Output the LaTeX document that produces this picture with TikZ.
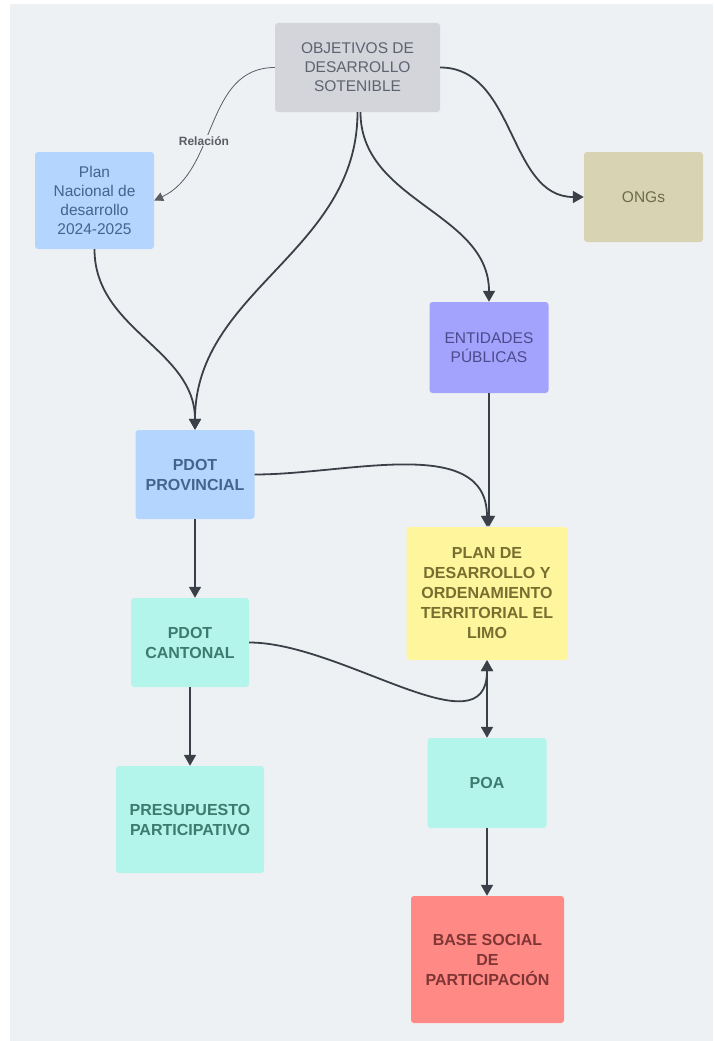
\documentclass[tikz,border=0pt]{standalone}
\usepackage{fontspec}
\setmainfont{Liberation Sans}
\usetikzlibrary{arrows.meta,positioning}

\definecolor{panelbg}{HTML}{EEF1F4}
\definecolor{linkcol}{HTML}{3B3F47}
\definecolor{relcol}{HTML}{5A5D63}
\definecolor{odsfill}{HTML}{D3D5DB}
\definecolor{odstext}{HTML}{5E6370}
\definecolor{bluefill}{HTML}{B4D5FD}
\definecolor{bluetext}{HTML}{43648C}
\definecolor{tanfill}{HTML}{D8D3B3}
\definecolor{tantext}{HTML}{6E6A4E}
\definecolor{purplefill}{HTML}{A3A3FE}
\definecolor{purpletext}{HTML}{4B4B8C}
\definecolor{yellowfill}{HTML}{FFF59C}
\definecolor{yellowtext}{HTML}{786E30}
\definecolor{mintfill}{HTML}{B3F5EA}
\definecolor{minttext}{HTML}{3D7A70}
\definecolor{salmonfill}{HTML}{FF8A85}
\definecolor{salmontext}{HTML}{803535}

\begin{document}
\begin{tikzpicture}[x=1pt, y=1pt,
    box/.style={rounded corners=3pt, align=center, inner sep=0pt,
        font=\fontsize{15.5}{19}\selectfont},
    boldbox/.style={box, font=\bfseries\fontsize{16}{20}\selectfont},
    link/.style={-{Triangle[length=11pt,width=12pt]}, line width=1.8pt, draw=linkcol},
    thinlink/.style={-{Triangle[length=9pt,width=9pt]}, line width=0.8pt, draw=relcol}]
    % Page and panel
    \useasboundingbox (0,0) rectangle (713,-1041);
    \fill[white] (0,0) rectangle (713,-1041);
    \fill[panelbg] (10,-4) rectangle (713,-1041);

    % Top row
    \node[box, fill=odsfill, text=odstext, minimum width=165pt, minimum height=89pt]
        (ods) at (357.5,-67.5) {OBJETIVOS DE\\DESARROLLO\\SOTENIBLE};
    \node[box, fill=bluefill, text=bluetext, minimum width=119pt, minimum height=97pt]
        (pnd) at (94.5,-200.5) {Plan\\Nacional de\\desarrollo\\2024-2025};
    \node[box, fill=tanfill, text=tantext, minimum width=119pt, minimum height=90pt]
        (ongs) at (643.5,-197) {ONGs};
    \node[box, fill=purplefill, text=purpletext, minimum width=119pt, minimum height=91pt]
        (ent) at (489,-347.5) {ENTIDADES\\PÚBLICAS};

    % Plans
    \node[boldbox, fill=bluefill, text=bluetext, minimum width=119pt, minimum height=89pt]
        (pdotp) at (195,-474.5) {PDOT\\PROVINCIAL};
    \node[boldbox, fill=yellowfill, text=yellowtext, minimum width=161pt, minimum height=133pt]
        (pdot) at (487,-593.5) {PLAN DE\\DESARROLLO Y\\ORDENAMIENTO\\TERRITORIAL EL\\LIMO};
    \node[boldbox, fill=mintfill, text=minttext, minimum width=118pt, minimum height=89pt]
        (pdotc) at (190,-642.5) {PDOT\\CANTONAL};

    % Bottom row
    \node[boldbox, fill=mintfill, text=minttext, minimum width=148pt, minimum height=107pt]
        (presup) at (190,-819.5) {PRESUPUESTO\\PARTICIPATIVO};
    \node[boldbox, fill=mintfill, text=minttext, minimum width=119pt, minimum height=90pt]
        (poa) at (487,-783) {POA};
    \node[boldbox, fill=salmonfill, text=salmontext, minimum width=153pt, minimum height=127pt]
        (base) at (487.5,-959.5) {BASE SOCIAL\\DE\\PARTICIPACIÓN};

    % Curved links
    \draw[thinlink] (ods.west) to[out=180, in=25]
        node[pos=0.6, fill=panelbg, inner sep=1pt, text=relcol,
             font=\bfseries\fontsize{12}{14}\selectfont] (rel) {Relación} (pnd.east);
    \draw[link] (ods.east) to[out=0, in=180] (ongs.west);
    \draw[link] (ods.south) to[out=-90, in=90] (pdotp.north);
    \draw[link] ([xshift=3pt]ods.south) to[out=-90, in=90] (ent.north);
    \draw[link] (pnd.south) to[out=-90, in=90] (pdotp.north);
    \draw[link] (pdotp.east) to[out=0, in=90] (pdot.north);
    \draw[link] (pdotc.east) to[out=0, in=-90] (pdot.south);

    % Straight links
    \draw[link] (pdotp.south) -- (pdotp.south |- pdotc.north);
    \draw[link, {Triangle[length=11pt,width=12pt]}-{Triangle[length=11pt,width=12pt]}]
        (pdot.south) -- (poa.north);
    \foreach \a/\b in {ent/pdot, pdotc/presup, poa/base} {
        \draw[link] (\a.south) -- (\a.south |- \b.north);
    }
\end{tikzpicture}
\end{document}
